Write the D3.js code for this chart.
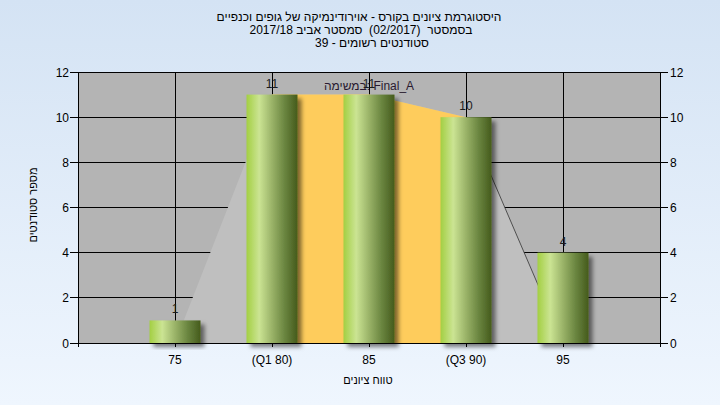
<!DOCTYPE html>
<html><head><meta charset="utf-8">
<script src="https://cdn.jsdelivr.net/npm/d3@7"></script>
<style>body{margin:0;}svg{display:block;}text{font-family:"Liberation Sans",Arial,sans-serif;white-space:pre;}</style>
</head><body><svg id="c" width="720" height="405"></svg>
<script>
const categories = [75, 80, 85, 90, 95];
const tickLabels = ["75", "(Q1 80)", "85", "(Q3 90)", "95"];
const counts = [1, 11, 11, 10, 4];
const envelopeX = [75, 80, 85, 90, 95];
const envelopeY = [0, 11, 11, 10, 0];
const q1 = 80, q3 = 90;
const yTicks = [0, 2, 4, 6, 8, 10, 12];
const titleLines = ["היסטוגרמת ציונים בקורס - אוירודינמיקה של גופים וכנפיים",
  "בסמסטר  (02/2017)  סמסטר אביב 2017/18",
  "סטודנטים רשומים - 39"];
const yTitle = "מספר סטודנטים";
const xTitle = "טווח ציונים";
const annotation = "במשימה: Final_A";

const svg = d3.select("#c");
const L = 78, R = 660, T = 72, B = 343;
const x = d3.scaleLinear().domain([70, 100]).range([L, R]);
const y = d3.scaleLinear().domain([0, 12]).range([B, T]);

const defs = svg.append("defs");
const bg = defs.append("linearGradient").attr("id", "bg").attr("x1", 0).attr("y1", 0).attr("x2", 0).attr("y2", 1);
bg.append("stop").attr("offset", "0%").attr("stop-color", "#d4e3f4");
bg.append("stop").attr("offset", "100%").attr("stop-color", "#eff6fe");
const bar = defs.append("linearGradient").attr("id", "bar").attr("x1", 0).attr("y1", 0).attr("x2", 1).attr("y2", 0);
[["0%", "#a3cf42"], ["25%", "#cbe493"], ["50%", "#9ab368"], ["75%", "#6a8540"], ["100%", "#455b1c"]]
  .forEach(s => bar.append("stop").attr("offset", s[0]).attr("stop-color", s[1]));
const f = defs.append("filter").attr("id", "sh").attr("x", "-20%").attr("y", "-20%").attr("width", "150%").attr("height", "150%");
f.append("feDropShadow").attr("dx", 4).attr("dy", 4).attr("stdDeviation", 2).attr("flood-color", "#000").attr("flood-opacity", 0.5);

svg.append("rect").attr("width", 720).attr("height", 405).attr("fill", "url(#bg)");
svg.append("rect").attr("x", L).attr("y", T).attr("width", R - L).attr("height", B - T).attr("fill", "#b4b4b4");

// gridlines
svg.append("g").selectAll("line").data(yTicks).join("line")
  .attr("x1", L).attr("x2", R).attr("y1", d => y(d)).attr("y2", d => y(d))
  .attr("stroke", "#000").attr("stroke-width", 1).attr("shape-rendering", "crispEdges");
svg.append("g").selectAll("line").data(categories).join("line")
  .attr("x1", d => x(d)).attr("x2", d => x(d)).attr("y1", T).attr("y2", B)
  .attr("stroke", "#000").attr("stroke-width", 1).attr("shape-rendering", "crispEdges");

// envelope polygon
const env = envelopeX.map((v, i) => [v, envelopeY[i]]);
const area = d3.area().x(d => x(d[0])).y0(y(0)).y1(d => y(d[1]));
svg.append("path").datum(env).attr("d", area).attr("fill", "#bfbfbf");
// yellow quartile region
const qd = categories.map((c, i) => [c, counts[i]]).filter(d => d[0] >= q1 && d[0] <= q3);
svg.append("path").datum(qd).attr("d", area).attr("fill", "#fecc5c");
// right edge line
const seg = env.slice(3, 5);
svg.append("path").datum(seg).attr("d", d3.line().x(d => x(d[0])).y(d => y(d[1])))
  .attr("stroke", "#333").attr("stroke-width", 0.8).attr("fill", "none");

// axes
const ax = svg.append("g").attr("stroke", "#000").attr("shape-rendering", "crispEdges");
ax.append("line").attr("x1", L).attr("x2", L).attr("y1", T).attr("y2", B + 4);
ax.append("line").attr("x1", R).attr("x2", R).attr("y1", T).attr("y2", B + 4);
ax.append("line").attr("x1", L).attr("x2", R).attr("y1", B).attr("y2", B);
ax.selectAll(".tl").data(yTicks).join("line").attr("x1", L - 8).attr("x2", L).attr("y1", d => y(d)).attr("y2", d => y(d));
ax.selectAll(".tr").data(yTicks).join("line").attr("x1", R).attr("x2", R + 8).attr("y1", d => y(d)).attr("y2", d => y(d));
ax.selectAll(".tb").data(categories).join("line").attr("x1", d => x(d)).attr("x2", d => x(d)).attr("y1", B).attr("y2", B + 4);

// bars
const bw = 51;
svg.append("g").selectAll("rect").data(categories).join("rect")
  .attr("x", d => x(d) - bw / 2).attr("width", bw)
  .attr("y", (d, i) => y(counts[i])).attr("height", (d, i) => y(0) - y(counts[i]))
  .attr("fill", "url(#bar)").attr("filter", "url(#sh)");

// bar labels
svg.append("g").selectAll("text").data(categories).join("text")
  .attr("x", d => x(d)).attr("y", (d, i) => y(counts[i]) - 7)
  .attr("text-anchor", "middle").attr("font-size", 12).attr("fill", "#1a1a1a")
  .text((d, i) => counts[i]);

svg.append("text").attr("x", 369).attr("y", 90).attr("text-anchor", "middle")
  .attr("font-size", 12).attr("fill", "#2a1a30").attr("direction", "ltr").text(annotation);

// tick labels
svg.append("g").selectAll("text").data(yTicks).join("text")
  .attr("x", L - 9).attr("y", d => y(d) + 4.5).attr("text-anchor", "end").attr("font-size", 12).attr("fill", "#000").text(d => d);
svg.append("g").selectAll("text").data(yTicks).join("text")
  .attr("x", R + 10).attr("y", d => y(d) + 4.5).attr("text-anchor", "start").attr("font-size", 12).attr("fill", "#000").text(d => d);
svg.append("g").selectAll("text").data(categories).join("text")
  .attr("x", d => x(d)).attr("y", 364).attr("text-anchor", "middle").attr("font-size", 12).attr("fill", "#000")
  .text((d, i) => tickLabels[i]);

// titles
const tx = [359, 361, 372];
svg.append("g").selectAll("text").data(titleLines).join("text")
  .attr("x", (d, i) => tx[i]).attr("y", (d, i) => 21 + i * 13).attr("text-anchor", "middle")
  .attr("direction", "rtl").attr("font-size", 12).attr("fill", "#000").text(d => d);
svg.append("text").attr("x", 368).attr("y", 384).attr("text-anchor", "middle").attr("direction", "rtl")
  .attr("font-size", 11).attr("fill", "#000").text(xTitle);
svg.append("text").attr("transform", "translate(37,205) rotate(-90)").attr("text-anchor", "middle").attr("direction", "rtl")
  .attr("font-size", 11).attr("fill", "#000").text(yTitle);
</script></body></html>
